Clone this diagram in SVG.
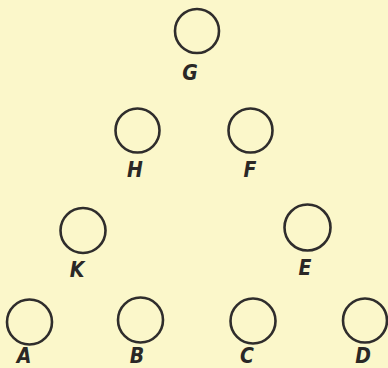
<svg xmlns="http://www.w3.org/2000/svg" width="388" height="368" viewBox="0 0 388 368">
  <style>
    .node circle { fill: none; stroke: #2f2d2c; stroke-width: 2.6; }
    .node text { font-family: "DejaVu Sans Condensed", "Liberation Sans", Arial, sans-serif; font-stretch: condensed; font-weight: bold; font-style: italic; font-size: 21px; fill: #2a2826; text-anchor: middle; }
  </style>
  <rect width="388" height="368" fill="#fbf7ca"/>
  <g id="connectors"></g>
  <g id="node-G" class="node"><circle cx="197" cy="31" r="22"/><text x="190" y="80">G</text></g>
  <g id="node-H" class="node"><circle cx="137.5" cy="130.5" r="22"/><text x="135" y="177">H</text></g>
  <g id="node-F" class="node"><circle cx="250.5" cy="130.5" r="22"/><text x="250" y="177">F</text></g>
  <g id="node-K" class="node"><circle cx="83" cy="230.5" r="22.5"/><text x="77" y="277">K</text></g>
  <g id="node-E" class="node"><circle cx="307.5" cy="227.5" r="23"/><text x="305" y="275">E</text></g>
  <g id="node-A" class="node"><circle cx="29.5" cy="322" r="22.5"/><text x="24" y="363">A</text></g>
  <g id="node-B" class="node"><circle cx="140.5" cy="320" r="22.5"/><text x="137" y="363">B</text></g>
  <g id="node-C" class="node"><circle cx="253" cy="321" r="22.5"/><text x="247" y="363">C</text></g>
  <g id="node-D" class="node"><circle cx="365" cy="320.5" r="22"/><text x="363" y="363">D</text></g>
</svg>
